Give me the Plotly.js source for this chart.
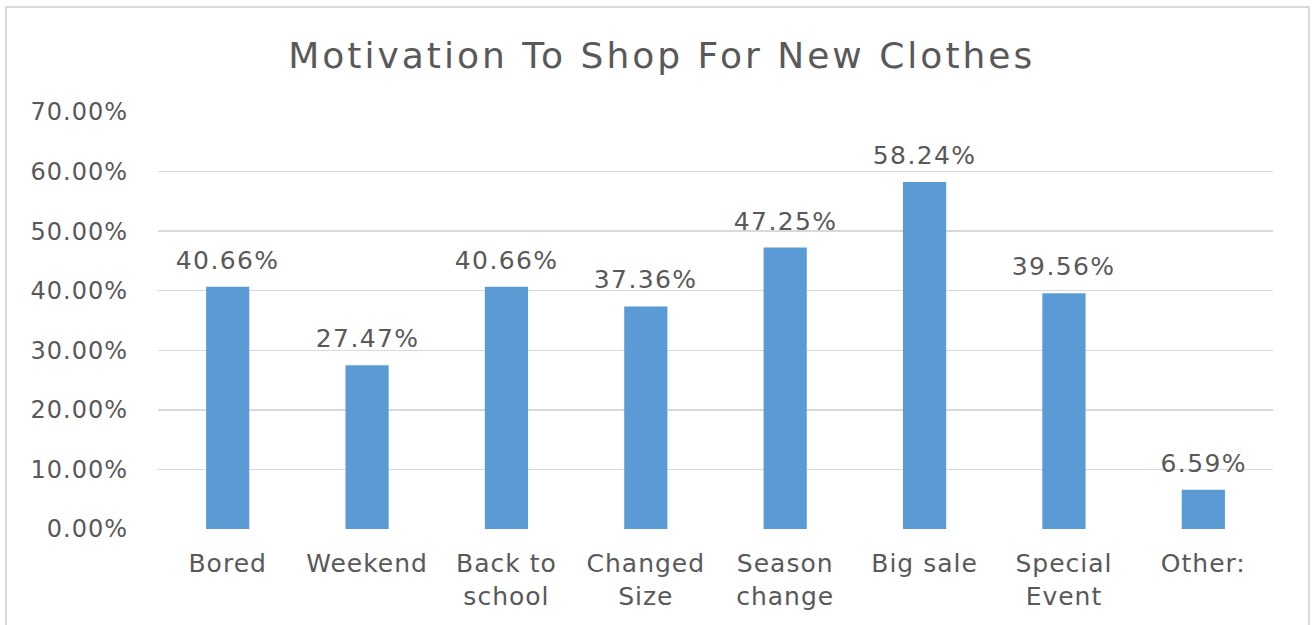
<!DOCTYPE html>
<html>
<head>
<meta charset="utf-8">
<script src="https://cdn.plot.ly/plotly-3.0.1.min.js"></script>
<style>
html,body{margin:0;padding:0;background:#fff;}
#wrap{position:absolute;left:0;top:0;width:1313px;height:625px;}
#frame{position:absolute;left:5px;top:6px;width:1305px;height:640px;border:2px solid #d9d9d9;box-sizing:border-box;pointer-events:none;}
#chart{position:absolute;left:0;top:0;width:1313px;height:625px;}
#chart .gtitle{letter-spacing:3px;}
#chart .xtick text{letter-spacing:1px;}
#chart .ytick text{letter-spacing:1px;}
#chart .annotation-text{letter-spacing:1.4px;}
</style>
</head>
<body>
<div id="wrap"><div id="chart"></div><div id="frame"></div></div>
<script>
const categories = ["Bored", "Weekend", "Back to<br>school", "Changed<br>Size", "Season<br>change", "Big sale", "Special<br>Event", "Other:"];
const values = [0.4066, 0.2747, 0.4066, 0.3736, 0.4725, 0.5824, 0.3956, 0.0659];
const labels = ["40.66%", "27.47%", "40.66%", "37.36%", "47.25%", "58.24%", "39.56%", "6.59%"];
const yTicks = [0, 0.1, 0.2, 0.3, 0.4, 0.5, 0.6, 0.7];
const yTickLabels = ["0.00%", "10.00%", "20.00%", "30.00%", "40.00%", "50.00%", "60.00%", "70.00%"];

const font = "DejaVu Sans, sans-serif";
const grey = "#595959";

const trace = {
  type: "bar",
  x: categories,
  y: values,
  marker: {color: "#5B9BD5"},
  hoverinfo: "none"
};

const annotations = categories.map((c, i) => ({
  x: c, y: values[i], xref: "x", yref: "y",
  text: labels[i], showarrow: false,
  yanchor: "bottom", yshift: 10,
  font: {family: font, size: 25, color: grey}
}));

const layout = {
  width: 1313, height: 625,
  margin: {l: 158, r: 40, t: 112, b: 96, pad: 0},
  paper_bgcolor: "#fff", plot_bgcolor: "#fff",
  bargap: 0.69,
  showlegend: false,
  title: {
    text: "Motivation To Shop For New Clothes",
    x: 0.504, xanchor: "center",
    y: 0.912, yanchor: "middle",
    font: {family: font, size: 36, color: grey}
  },
  xaxis: {
    type: "category",
    tickfont: {family: font, size: 25, color: grey},
    showgrid: false, zeroline: false,
    showline: false, ticks: "",
    ticklabelstandoff: 17
  },
  yaxis: {
    range: [0, 0.7],
    tickvals: yTicks, ticktext: yTickLabels,
    tickfont: {family: font, size: 24, color: grey},
    showgrid: true, gridcolor: "#d9d9d9", gridwidth: 1.5,
    zeroline: false, showline: false, ticks: "",
    ticklabelstandoff: 29
  },
  annotations: annotations
};

Plotly.newPlot("chart", [trace], layout, {displayModeBar: false, staticPlot: true});
</script>
</body>
</html>
